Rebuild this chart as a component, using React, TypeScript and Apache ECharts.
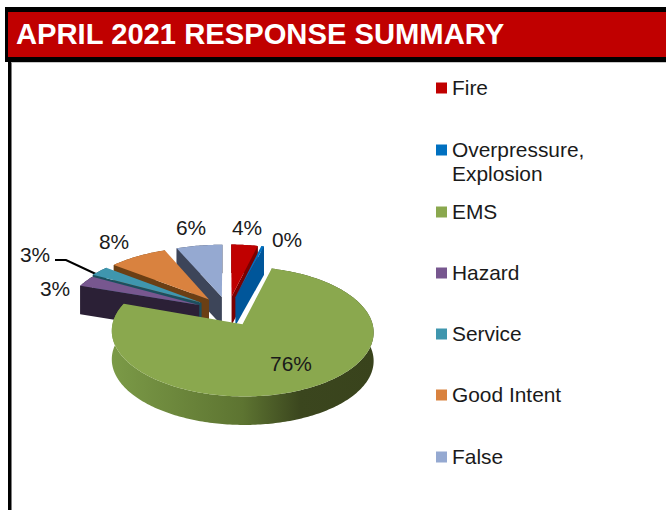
import React, { useEffect, useRef } from "react";
import * as echarts from "echarts";

const TITLE = "APRIL 2021 RESPONSE SUMMARY";
const categories = ["Fire", "Overpressure, Explosion", "EMS", "Hazard", "Service", "Good Intent", "False"];
const values = [3.8, 0.4, 76.2, 2.9, 2.6, 7.9, 6.2];
const topColors = ["#c00000", "#0070c0", "#8aa84e", "#77578f", "#3f96ae", "#d9823f", "#95a9d1"];
const wallColors = ["#7a0000", "#00569a", "#5d7431", "#2b2036", "#1c4f5e", "#6b3f14", "#3d4559"];
const legendLines = [["Fire"], ["Overpressure,", "Explosion"], ["EMS"], ["Hazard"], ["Service"], ["Good Intent"], ["False"]];

// Layout of the tilted pie (not data)
const X0 = 228, Y0 = 311, RX = 127, RY = 61, K = 0.111, EXPLODE = 0.24, DEPTH = 28.5;
const widthScale = [1, 1, 1, 1.05, 1.07, 1.07, 1.07];
const labelCenters = [[247, 227], [287, 239], [291, 363], [55, 288], [35, 254], [114, 241], [191, 227]];
const legendRows = [88, 150, 212, 273, 334, 395, 457];
const drawOrder = [0, 1, 6, 5, 4, 3, 2];
const FONT = '20.9px "Liberation Sans", Arial, sans-serif';
const total = values.reduce((s, v) => s + v, 0);
const rad = (i: number) => (values.slice(0, i).reduce((s, v) => s + v, 0) / total) * Math.PI * 2;

function project(a: number, b: number, sx: number, drop = 0) {
  const w = 1 - K * b;
  return [X0 + (RX * sx * a) / w, Y0 + (RY * b) / w + drop];
}

function renderSlice(i: number) {
  return (_params: any, api: any) => {
    const share = (api.value(0) as number) / total;
    const t0 = rad(i);
    const t1 = t0 + share * Math.PI * 2;
    const tm = (t0 + t1) / 2;
    const ea = EXPLODE * Math.sin(tm);
    const eb = -EXPLODE * Math.cos(tm);
    const at = (t: number, r: number, drop = 0) =>
      project(ea + r * Math.sin(t), eb - r * Math.cos(t), widthScale[i], drop);
    const arc: number[][] = [];
    const steps = Math.max(2, Math.ceil((t1 - t0) / (Math.PI / 180)));
    for (let s = 0; s <= steps; s++) arc.push(at(t0 + ((t1 - t0) * s) / steps, 1));
    const arcLow = arc.map((p) => [p[0], p[1] + DEPTH]);
    const outerFill =
      i === 2
        ? new echarts.graphic.LinearGradient(0, 0, 1, 0, [
            { offset: 0, color: "#7b9a47" },
            { offset: 0.5, color: "#5d7431" },
            { offset: 0.72, color: "#3b461e" },
            { offset: 1, color: "#39431c" },
          ])
        : wallColors[i];
    const children: any[] = [];
    children.push({ type: "polygon", silent: true, shape: { points: [...arc, ...arcLow.slice().reverse()] }, style: { fill: outerFill } });
    if (i !== 2) {
      const edge = tm < Math.PI ? t1 : t0;
      children.push({
        type: "polygon",
        silent: true,
        shape: { points: [at(edge, 1), at(edge, 0), at(edge, 0, DEPTH), at(edge, 1, DEPTH)] },
        style: { fill: wallColors[i] },
      });
    }
    children.push({ type: "polygon", silent: true, shape: { points: [at(t0, 0), ...arc] }, style: { fill: topColors[i] } });
    return { type: "group", children };
  };
}

function buildOption() {
  const graphic: any[] = [
    { type: "rect", shape: { x: 5, y: 7, width: 661, height: 55 }, style: { fill: "#000" } },
    { type: "rect", shape: { x: 8, y: 12, width: 658, height: 45 }, style: { fill: "#c00000" } },
    { type: "rect", shape: { x: 8, y: 62, width: 3.5, height: 448 }, style: { fill: "#000" } },
    { type: "rect", shape: { x: 11.5, y: 62, width: 654.5, height: 1 }, style: { fill: "#c8c8c8" } },
    {
      type: "text",
      style: { text: TITLE, x: 16, y: 34, fill: "#fff", font: 'bold 29.2px "Liberation Sans", Arial, sans-serif', textAlign: "left", textVerticalAlign: "middle" },
    },
    { type: "polyline", shape: { points: [[55, 260], [66, 260], [98, 275]] }, style: { stroke: "#000", lineWidth: 2, fill: "none" } },
  ];
  categories.forEach((_, i) => {
    graphic.push({ type: "rect", shape: { x: 436, y: legendRows[i] - 5.5, width: 11, height: 11 }, style: { fill: topColors[i] } });
    graphic.push({
      type: "text",
      style: { text: legendLines[i].join("\n"), x: 452, y: legendRows[i] - 13, fill: "#1a1a1a", font: FONT, lineHeight: 24, textAlign: "left", textVerticalAlign: "top" },
    });
    graphic.push({
      type: "text",
      z: 50,
      style: { text: Math.round((values[i] / total) * 100) + "%", x: labelCenters[i][0], y: labelCenters[i][1], fill: "#1a1a1a", font: FONT, textAlign: "center", textVerticalAlign: "middle" },
    });
  });
  return {
    animation: false,
    backgroundColor: "#fff",
    graphic,
    series: drawOrder.map((i) => ({
      type: "custom",
      name: categories[i],
      coordinateSystem: "none",
      silent: true,
      z: 2 + drawOrder.indexOf(i),
      data: [[values[i]]],
      renderItem: renderSlice(i),
    })),
  };
}

export default function App() {
  const ref = useRef<HTMLDivElement>(null);
  useEffect(() => {
    const chart = echarts.init(ref.current!, null, { renderer: "svg" });
    chart.setOption(buildOption() as any);
    return () => chart.dispose();
  }, []);
  return <div ref={ref} style={{ position: "fixed", left: 0, top: 0, width: 666, height: 510 }} />;
}
